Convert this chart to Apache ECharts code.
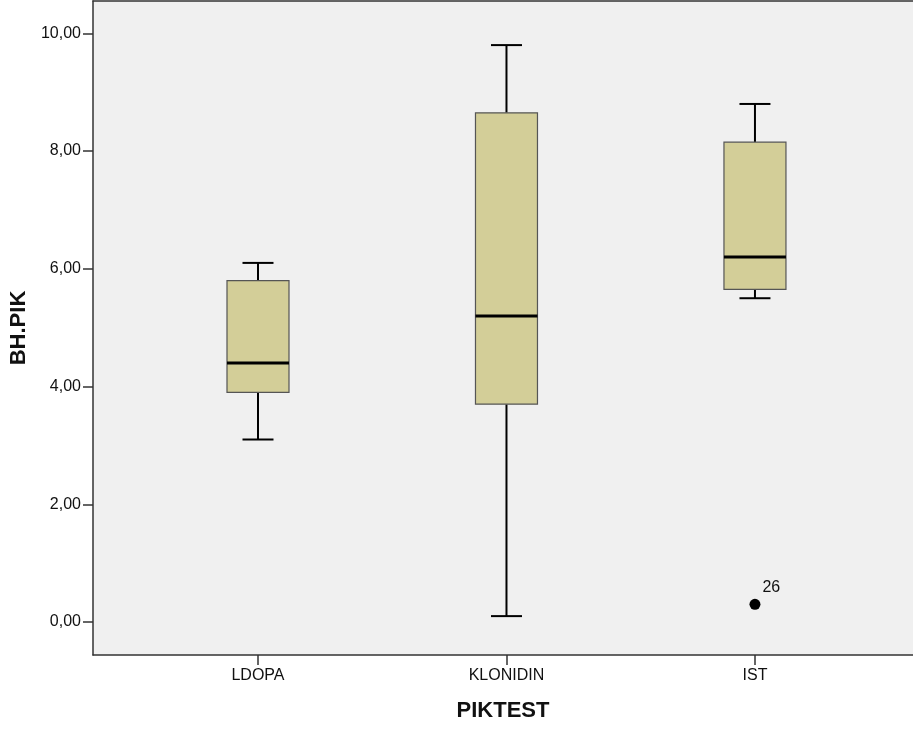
<!DOCTYPE html>
<html>
<head>
<meta charset="utf-8">
<script src="https://cdn.jsdelivr.net/npm/echarts@6/dist/echarts.min.js"></script>
<style>
html,body{margin:0;padding:0;background:#fff;}
#chart{width:913px;height:731px;}
</style>
</head>
<body>
<div id="chart"></div>
<script>
const categories = ['LDOPA', 'KLONIDIN', 'IST'];
const mins    = [3.1, 0.1, 5.5];
const q1s     = [3.9, 3.7, 5.65];
const medians = [4.4, 5.2, 6.2];
const q3s     = [5.8, 8.65, 8.15];
const maxs    = [6.1, 9.8, 8.8];
const outliers = [[2, 0.3, '26']];
const yTicks = [0, 2, 4, 6, 8, 10];
const xTicks = [0, 1, 2];

const boxData = categories.map((c, i) => [i, mins[i], q1s[i], medians[i], q3s[i], maxs[i]]);

const chart = echarts.init(document.getElementById('chart'), null, {renderer: 'canvas'});
const FONT = 'Liberation Sans, Arial, sans-serif';
const XMIN = -0.664, XMAX = 2.636;

chart.setOption({
  animation: false,
  grid: {
    left: 93, top: 1, right: 0, bottom: 76,
    show: true, backgroundColor: '#F0F0F0', borderWidth: 0
  },
  xAxis: [{
    type: 'value', min: XMIN, max: XMAX, position: 'bottom',
    splitLine: {show: false},
    axisLine: {show: true, onZero: false, lineStyle: {color: '#333', width: 1.5}},
    axisTick: {show: true, customValues: xTicks, length: 10, lineStyle: {color: '#333', width: 1.5}},
    axisLabel: {customValues: xTicks, formatter: v => categories[Math.round(v)] || '', fontSize: 16, fontFamily: FONT, color: '#111', margin: 13},
    name: 'PIKTEST', nameLocation: 'middle', nameGap: 45,
    nameTextStyle: {fontSize: 22, fontWeight: 'bold', fontFamily: FONT, color: '#111'}
  }, {
    type: 'value', min: XMIN, max: XMAX, position: 'top',
    splitLine: {show: false},
    axisLine: {show: true, onZero: false, lineStyle: {color: '#333', width: 1.5}},
    axisTick: {show: false}, axisLabel: {show: false}
  }],
  yAxis: {
    type: 'value', min: -0.5606, max: 10.549,
    splitLine: {show: false},
    axisLine: {show: true, onZero: false, lineStyle: {color: '#333', width: 1.5}},
    axisTick: {show: true, customValues: yTicks, length: 10, lineStyle: {color: '#333', width: 1.5}},
    axisLabel: {customValues: yTicks, formatter: v => v.toFixed(2).replace('.', ','), fontSize: 16, fontFamily: FONT, color: '#111', margin: 12},
    name: 'BH.PIK', nameLocation: 'middle', nameGap: 63,
    nameTextStyle: {fontSize: 22, fontWeight: 'bold', fontFamily: FONT, color: '#111'}
  },
  series: [
    {
      type: 'custom',
      data: boxData,
      encode: {x: 0, y: [1, 2, 3, 4, 5]},
      renderItem: function (params, api) {
        const i = api.value(0);
        const pMin = api.coord([i, api.value(1)]);
        const pQ1 = api.coord([i, api.value(2)]);
        const pMed = api.coord([i, api.value(3)]);
        const pQ3 = api.coord([i, api.value(4)]);
        const pMax = api.coord([i, api.value(5)]);
        const x = pMed[0];
        const bw = 62, cw = 31;
        const wStyle = {stroke: '#000', lineWidth: 2};
        return {
          type: 'group',
          children: [
            {type: 'line', shape: {x1: x, y1: pMax[1], x2: x, y2: pQ3[1]}, style: wStyle},
            {type: 'line', shape: {x1: x, y1: pQ1[1], x2: x, y2: pMin[1]}, style: wStyle},
            {type: 'line', shape: {x1: x - cw / 2, y1: pMax[1], x2: x + cw / 2, y2: pMax[1]}, style: wStyle},
            {type: 'line', shape: {x1: x - cw / 2, y1: pMin[1], x2: x + cw / 2, y2: pMin[1]}, style: wStyle},
            {type: 'rect', shape: {x: x - bw / 2, y: pQ3[1], width: bw, height: pQ1[1] - pQ3[1]},
              style: {fill: '#D3CE98', stroke: '#555', lineWidth: 1.2}},
            {type: 'line', shape: {x1: x - bw / 2, y1: pMed[1], x2: x + bw / 2, y2: pMed[1]},
              style: {stroke: '#000', lineWidth: 3}}
          ]
        };
      }
    },
    {
      type: 'scatter',
      data: outliers,
      symbol: 'circle', symbolSize: 11,
      itemStyle: {color: '#000', opacity: 1},
      label: {
        show: true, formatter: p => p.data[2], position: [13, -19],
        fontSize: 16, fontFamily: FONT, color: '#111'
      }
    }
  ]
});
</script>
</body>
</html>
